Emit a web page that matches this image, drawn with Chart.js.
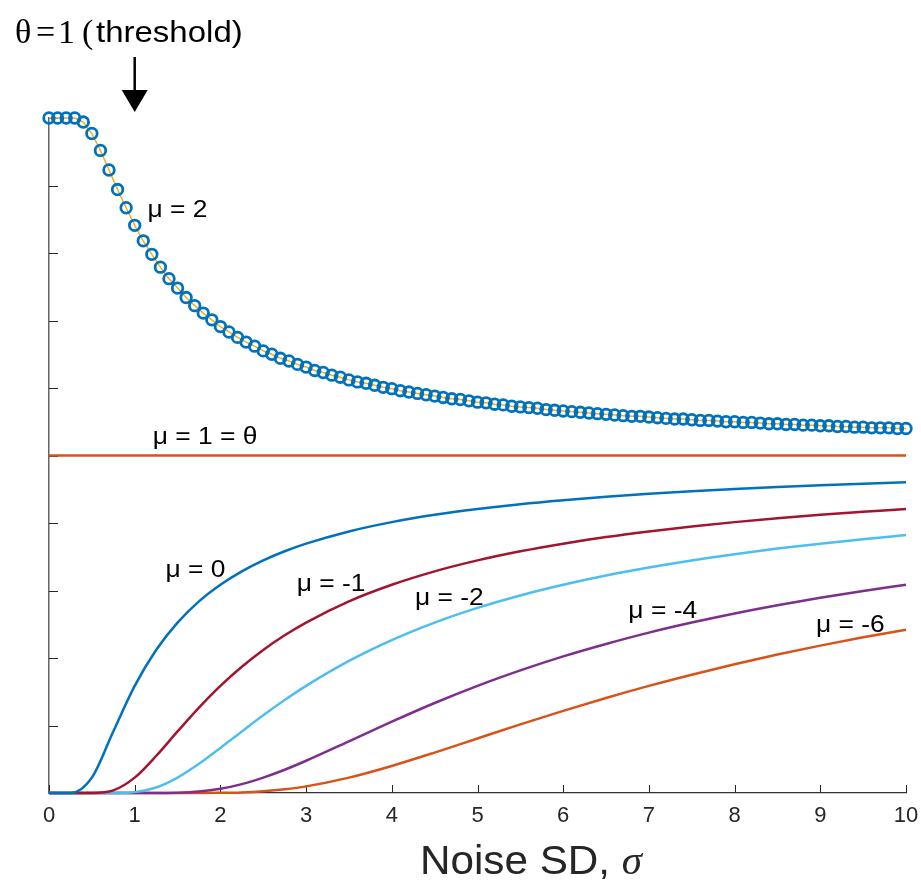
<!DOCTYPE html>
<html>
<head>
<meta charset="utf-8">
<script src="https://cdn.jsdelivr.net/npm/chart.js@4.4.1/dist/chart.umd.min.js"></script>
<style>
  html, body { margin: 0; padding: 0; background: #fff; }
  #wrap { width: 921px; height: 886px; }
</style>
</head>
<body>
<div id="wrap"><canvas id="sr-chart" width="921" height="886"></canvas></div>
<script>
// Noise SD values
var sigmaFine = [0,0.1,0.2,0.3,0.4,0.5,0.6,0.7,0.8,0.9,1,1.1,1.2,1.3,1.4,1.5,1.6,1.7,1.8,1.9,
  2,2.1,2.2,2.3,2.4,2.5,2.6,2.7,2.8,2.9,3,3.1,3.2,3.3,3.4,3.5,3.6,3.7,3.8,3.9,
  4,4.1,4.2,4.3,4.4,4.5,4.6,4.7,4.8,4.9,5,5.1,5.2,5.3,5.4,5.5,5.6,5.7,5.8,5.9,
  6,6.1,6.2,6.3,6.4,6.5,6.6,6.7,6.8,6.9,7,7.1,7.2,7.3,7.4,7.5,7.6,7.7,7.8,7.9,
  8,8.1,8.2,8.3,8.4,8.5,8.6,8.7,8.8,8.9,9,9.1,9.2,9.3,9.4,9.5,9.6,9.7,9.8,9.9,10];
var sigmaGrid = [0,0.25,0.5,0.75,1,1.25,1.5,1.75,2,2.25,2.5,2.75,3,
  3.5,4,4.5,5,5.5,6,6.5,7,7.5,8,8.5,9,9.5,10];
var sigmaFlat = [0, 10];

// mu = 2 (markers)
var mu2 = [1,1,1,1,0.994,0.977,0.952,0.923,0.894,0.867,0.841,0.818,0.798,0.779,0.762,0.748,0.734,0.722,0.711,0.701,
  0.691,0.683,0.675,0.668,0.662,0.655,0.650,0.644,0.640,0.635,0.631,0.626,0.623,0.619,0.616,0.612,0.609,0.607,0.604,0.601,
  0.599,0.596,0.594,0.592,0.590,0.588,0.586,0.584,0.583,0.581,0.579,0.578,0.576,0.575,0.573,0.572,0.571,0.570,0.568,0.567,
  0.566,0.565,0.564,0.563,0.562,0.561,0.560,0.559,0.558,0.558,0.557,0.556,0.555,0.554,0.554,0.553,0.552,0.552,0.551,0.550,
  0.550,0.549,0.549,0.548,0.547,0.547,0.546,0.546,0.545,0.545,0.544,0.544,0.543,0.543,0.542,0.542,0.541,0.541,0.541,0.540,0.540];
// mu = 1 (= threshold)
var mu1 = [0.5, 0.5];
// sub-threshold curves on sigmaGrid
var mu0 = [0,0,0.0228,0.0912,0.1587,0.2119,0.2525,0.2839,0.3085,0.3284,0.3446,0.3581,0.3694,
  0.3875,0.4013,0.4121,0.4207,0.4279,0.4338,0.4389,0.4432,0.4470,0.4503,0.4532,0.4558,0.4581,0.4602];
var muM1 = [0,0,0,0.0038,0.0228,0.0548,0.0912,0.1265,0.1587,0.1870,0.2119,0.2336,0.2525,
  0.2839,0.3085,0.3284,0.3446,0.3581,0.3694,0.3792,0.3875,0.3949,0.4013,0.4070,0.4121,0.4166,0.4207];
var muM2 = [0,0,0,0,0.0013,0.0082,0.0228,0.0432,0.0668,0.0912,0.1151,0.1377,0.1587,
  0.1957,0.2266,0.2525,0.2743,0.2927,0.3085,0.3222,0.3341,0.3446,0.3538,0.3621,0.3694,0.3761,0.3821];
var muM4 = [0,0,0,0,0,0,0.0004,0.0021,0.0062,0.0131,0.0228,0.0345,0.0478,
  0.0766,0.1056,0.1333,0.1587,0.1816,0.2024,0.2208,0.2376,0.2525,0.2660,0.2782,0.2892,0.2994,0.3085];
var muM6 = [0,0,0,0,0,0,0,0,0.0002,0.0009,0.0026,0.0055,0.0098,
  0.0228,0.0401,0.0599,0.0808,0.1016,0.1217,0.1408,0.1587,0.1753,0.1908,0.2051,0.2183,0.2306,0.2420];

var xTicks = [0,1,2,3,4,5,6,7,8,9,10];

function pts(xs, ys) {
  return ys.map(function(v, i){ return { x: xs[i], y: v }; });
}

// curve labels, placed in data coordinates
var curveLabels = [
  { text: 'μ = 2', x: 1.15, y: 0.853 },
  { text: 'μ = 1 = θ', x: 1.21, y: 0.517 },
  { text: 'μ = 0', x: 1.36, y: 0.320 },
  { text: 'μ = -1', x: 2.89, y: 0.300 },
  { text: 'μ = -2', x: 4.27, y: 0.2785 },
  { text: 'μ = -4', x: 6.76, y: 0.259 },
  { text: 'μ = -6', x: 8.95, y: 0.2385 }
];

function stretchText(ctx, text, x, y, sx) {
  ctx.save();
  ctx.translate(x, y);
  ctx.scale(sx, 1);
  ctx.fillText(text, 0, 0);
  var w = ctx.measureText(text).width * sx;
  ctx.restore();
  return w;
}

var overlay = {
  id: 'overlay',
  beforeDatasetsDraw: function(chart) {
    var ctx = chart.ctx, xs = chart.scales.x, ys = chart.scales.y, a = chart.chartArea;
    ctx.save();
    ctx.strokeStyle = '#262626';
    ctx.lineWidth = 1;
    xs.ticks.forEach(function(t){
      var px = Math.round(xs.getPixelForValue(t.value)) + 0.5;
      ctx.beginPath(); ctx.moveTo(px, a.bottom); ctx.lineTo(px, a.bottom - 8); ctx.stroke();
    });
    ys.ticks.forEach(function(t){
      var py = Math.round(ys.getPixelForValue(t.value)) + 0.5;
      ctx.beginPath(); ctx.moveTo(a.left, py); ctx.lineTo(a.left + 9, py); ctx.stroke();
    });
    ctx.restore();
  },
  afterDraw: function(chart) {
    var ctx = chart.ctx, xs = chart.scales.x, ys = chart.scales.y;
    ctx.save();
    ctx.fillStyle = '#000';
    ctx.textAlign = 'left';
    ctx.textBaseline = 'alphabetic';

    // curve labels
    ctx.font = '24px "Liberation Sans", Arial, sans-serif';
    curveLabels.forEach(function(l){
      stretchText(ctx, l.text, xs.getPixelForValue(l.x), ys.getPixelForValue(l.y), 1.1);
    });

    // x axis title
    ctx.fillStyle = '#262626';
    ctx.font = '41px "Liberation Sans", Arial, sans-serif';
    var w = stretchText(ctx, 'Noise SD, ', 420, 874, 1.03);
    ctx.font = 'italic 41px "Liberation Serif", "Times New Roman", serif';
    ctx.fillText('σ', 420 + w, 874);

    // threshold annotation
    ctx.fillStyle = '#000';
    ctx.font = '34px "Liberation Serif", "Times New Roman", serif';
    ctx.fillText('θ', 15, 43);
    ctx.fillText('=', 36, 43);
    ctx.fillText('1', 58, 43);
    ctx.fillText('(', 82, 43);
    ctx.font = '30px "Liberation Sans", Arial, sans-serif';
    stretchText(ctx, 'threshold)', 96, 42, 1.1);

    // arrow pointing at sigma = theta
    var ax = xs.getPixelForValue(1);
    ctx.strokeStyle = '#000';
    ctx.lineWidth = 2.5;
    ctx.beginPath(); ctx.moveTo(ax, 57); ctx.lineTo(ax, 92); ctx.stroke();
    ctx.beginPath();
    ctx.moveTo(ax - 13, 90); ctx.lineTo(ax + 13, 90); ctx.lineTo(ax, 112); ctx.closePath();
    ctx.fill();
    ctx.restore();
  }
};

var lineStyle = function(label, xs, ys, color) {
  return {
    label: label,
    data: pts(xs, ys),
    borderColor: color,
    borderWidth: 2.5,
    pointRadius: 0,
    cubicInterpolationMode: 'monotone',
    clip: false
  };
};

var ctx = document.getElementById('sr-chart');
var chart = new Chart(ctx, {
  type: 'line',
  data: {
    datasets: [
      {
        label: 'μ = 2',
        data: pts(sigmaFine, mu2),
        borderColor: '#EDB120',
        borderWidth: 1.5,
        tension: 0,
        pointRadius: 5.3,
        pointBorderWidth: 2.8,
        pointBorderColor: '#0072BD',
        pointBackgroundColor: 'rgba(255,255,255,0)',
        clip: false
      },
      lineStyle('μ = 1', sigmaFlat, mu1, '#D95319'),
      lineStyle('μ = 0', sigmaGrid, mu0, '#0072BD'),
      lineStyle('μ = -1', sigmaGrid, muM1, '#A2142F'),
      lineStyle('μ = -2', sigmaGrid, muM2, '#4DBEEE'),
      lineStyle('μ = -4', sigmaGrid, muM4, '#7E2F8E'),
      lineStyle('μ = -6', sigmaGrid, muM6, '#D95319')
    ]
  },
  options: {
    responsive: false,
    animation: false,
    devicePixelRatio: 1,
    layout: { padding: { left: 49, right: 15, top: 118, bottom: 0 } },
    plugins: { legend: { display: false }, tooltip: { enabled: false } },
    scales: {
      x: {
        type: 'linear',
        min: 0, max: 10,
        afterFit: function(s){ s.height = 93; s.paddingLeft = 0; s.paddingRight = 0; },
        afterBuildTicks: function(s){ s.ticks = xTicks.map(function(v){ return { value: v }; }); },
        grid: { display: false, drawTicks: false },
        border: { display: true, color: '#333', width: 1.3 },
        ticks: { color: '#262626', padding: 10, maxRotation: 0,
                 font: { family: '"Liberation Sans", Arial, sans-serif', size: 22 } }
      },
      y: {
        min: 0, max: 1,
        afterFit: function(s){ s.width = 0; },
        ticks: { display: false, stepSize: 0.1 },
        grid: { display: false, drawTicks: false },
        border: { display: true, color: '#666', width: 1.5 }
      }
    }
  },
  plugins: [overlay]
});
</script>
</body>
</html>
